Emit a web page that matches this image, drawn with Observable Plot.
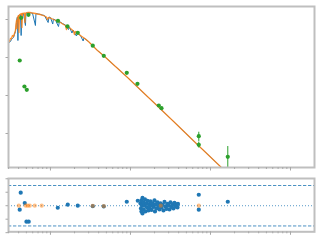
<!DOCTYPE html>
<html><head><meta charset="utf-8">
<script src="https://cdn.jsdelivr.net/npm/d3@7"></script>
<script src="https://cdn.jsdelivr.net/npm/@observablehq/plot@0.6"></script>
<style>html,body{margin:0;padding:0;background:#fff} svg{display:block}</style>
</head><body><div id="chart"></div>
<script>
// Model spectrum (orange)
const modelWave = [0.0299,0.0307,0.0316,0.0326,0.0335,0.0345,0.0355,0.0365,0.0371,0.0376,0.0381,0.0387,0.0398,0.0404,0.0410,0.0422,0.0434,0.0440,0.0447,0.0473,0.0480,0.0487,0.0516,0.0562,0.0596,0.0649,0.0688,0.0750,0.0818,0.0891,0.0917,0.0944,0.100,0.109,0.1223,0.1334,0.1454,0.154,0.1585,0.1631,0.1778,0.194,0.1995,0.2054,0.2175,0.2371,0.2738,0.2985,0.335,0.3868,0.4597,0.6494,0.8913,1.223,1.679,2.239,3.162,4.870,7.499,14.13,23.71];
const modelFlux = [0.280,0.264,0.316,0.316,0.379,0.357,0.428,0.513,0.739,0.941,0.580,1.129,1.274,0.455,1.313,1.396,1.439,0.616,1.439,1.483,0.834,1.483,1.528,1.528,1.483,1.439,1.396,1.354,1.274,1.164,1.0,1.129,1.095,1.0,0.913,0.834,0.739,0.695,0.545,0.654,0.580,0.498,0.403,0.483,0.441,0.379,0.307,0.264,0.207,0.1528,0.113,0.0580,0.0316,0.01674,0.00886,0.00498,0.00248,0.00103,0.000428,0.00012,4.15e-5];
// Observed spectrum (blue)
const obsWave = [0.0299,0.0307,0.0316,0.0326,0.0335,0.0345,0.0355,0.0365,0.0371,0.0376,0.0381,0.0387,0.0392,0.0398,0.0410,0.0422,0.0430,0.0440,0.0460,0.0487,0.0494,0.0531,0.0562,0.0596,0.0649,0.0659,0.0708,0.0794,0.0841,0.0936,0.0958,0.100,0.1068,0.1090,0.1155,0.1259,0.1296,0.1413,0.154,0.1679,0.1728,0.1857,0.1911,0.2113,0.2175,0.2371,0.2563,0.2622,0.2985,0.335,0.3868,0.4597,0.6494,0.8913,1.223,1.679,2.239,3.162,4.870,7.499,14.13,23.71];
const obsFlux = [0.2336,0.248,0.264,0.2976,0.316,0.336,0.403,0.483,0.616,0.834,1.062,1.164,0.280,1.274,1.313,1.354,0.379,1.396,1.439,0.695,1.483,1.483,1.483,1.483,0.695,1.439,1.396,1.313,1.274,0.834,1.164,1.129,0.761,1.031,0.970,0.654,0.886,0.785,0.717,0.545,0.635,0.441,0.529,0.368,0.441,0.379,0.272,0.326,0.264,0.207,0.1528,0.113,0.0580,0.0316,0.01674,0.00886,0.00498,0.00248,0.00103,0.000428,0.00012,4.15e-5];
// Photometry (green)
const photWave = [0.0413,0.0473,0.0506,0.0430,0.0531,0.1241,0.1631,0.2195,0.3378,0.4636,0.899,1.223,2.259,2.441,7.142,7.142,16.45];
const photFlux = [0.0834,0.01726,0.0141,1.108,1.33,0.924,0.662,0.447,0.2046,0.111,0.0396,0.0203,0.00546,0.00463,0.000849,0.000504,0.000244];
const photErr  = [0,0,0,0,0,0,0,0,0,0,0,0,0,0,0.00023,0.00009,0.00021];
// Residuals (blue)
const residWave = [0.0425,0.0477,0.0413,0.0501,0.0535,0.1234,0.1645,0.2195,0.3378,0.4636,0.899,1.234,
  1.334,1.353,1.372,1.372,1.392,1.413,1.413,1.454,1.454,1.496,1.518,1.540,1.585,1.608,1.631,1.679,1.703,1.728,1.778,1.804,1.830,1.884,1.939,1.995,2.024,2.054,2.113,2.175,2.239,2.304,2.371,2.441,2.512,2.585,2.661,2.738,2.818,2.901,2.985,3.073,3.162,3.255,3.350,3.447,3.548,3.652,3.758,3.868,3.924,
  7.142,7.142,16.45];
const residValue = [1.93,0.39,-0.59,-2.37,-2.37,-0.30,0.15,0,-0.06,-0.10,0.59,0.74,
  0.34,-0.40,0.79,-0.84,0.04,1.16,-1.14,0.49,-0.55,0.04,0.93,-0.84,0.34,-0.25,0.71,-0.70,0.19,-0.33,0.64,0.04,-0.62,0.34,-0.18,0.79,-0.84,0.19,-0.40,0.49,-0.03,-0.55,0.34,-0.25,0.12,-0.70,0.56,-0.10,-0.47,0.27,0.04,-0.55,0.49,-0.18,0.19,-0.40,0.41,-0.10,0.19,-0.25,0.27,
  1.63,-0.59,0.59];
// Residuals (orange)
const limWave = [0.0402,0.0491,0.0520,0.0551,0.0637,0.0778,0.3378,0.4636,2.392,7.142];
const limValue = [0,0,0,0,0,0,-0.03,-0.06,0,0];
// Ticks
const xMajorTicks = [0.1,1,10,100];
const xMinorTicks = [0.03,0.04,0.05,0.06,0.07,0.08,0.09,0.2,0.3,0.4,0.5,0.6,0.7,0.8,0.9,2,3,4,5,6,7,8,9,20,30,40,50,60,70,80,90];
const yTicksTop = [1,0.1,0.01,0.001];
const yTicksBottom = [-4,-2,0,2,4];
const sigmaLines = [-3,3];

const model = modelWave.map((w,i)=>({w, f:modelFlux[i]}));
const obs = obsWave.map((w,i)=>({w, f:obsFlux[i]}));
const phot = photWave.map((w,i)=>({w, f:photFlux[i], lo:photFlux[i]-photErr[i], hi:photFlux[i]+photErr[i], e:photErr[i]}));
const resid = residWave.map((w,i)=>({w, r:residValue[i]}));
const lim = limWave.map((w,i)=>({w, r:limValue[i]}));

const xDomain = [0.0299, 199.5];
const frameColor = "#bfbfbf";
const tickColor = "#a8a8a8";
const noText = () => "";

const sedPlot = Plot.plot({
  width: 320, height: 172,
  marginTop: 6, marginBottom: 5, marginLeft: 8, marginRight: 6,
  x: {type: "log", domain: xDomain, axis: null},
  y: {type: "log", domain: [1.274e-4, 2.2], axis: null},
  marks: [
    Plot.line(obs, {x: "w", y: "f", stroke: "#1f77b4", strokeWidth: 1, clip: true}),
    Plot.line(model, {x: "w", y: "f", stroke: "#ff7f0e", strokeWidth: 1.3, strokeOpacity: 0.85, clip: true}),
    Plot.ruleX(phot.filter(d => d.e > 0), {x: "w", y1: "lo", y2: "hi", stroke: "#2ca02c", strokeWidth: 1, clip: true}),
    Plot.dot(phot, {x: "w", y: "f", r: 2.1, fill: "#2ca02c", clip: true}),
    Plot.frame({stroke: frameColor, strokeWidth: 2}),
    Plot.axisX(xMinorTicks, {anchor: "bottom", tickSize: 2, stroke: tickColor, tickFormat: noText, label: null}),
    Plot.axisX(xMajorTicks, {anchor: "bottom", tickSize: 3.5, stroke: tickColor, tickFormat: noText, label: null}),
    Plot.axisY(yTicksTop, {anchor: "left", tickSize: 2.5, stroke: tickColor, tickFormat: noText, label: null})
  ]
});

const residPlot = Plot.plot({
  width: 320, height: 68,
  marginTop: 6, marginBottom: 8.7, marginLeft: 8, marginRight: 6,
  x: {type: "log", domain: xDomain, axis: null},
  y: {domain: [-3.87, 4.04], axis: null},
  marks: [
    Plot.ruleY(sigmaLines, {stroke: "#1f77b4", strokeWidth: 1, strokeDasharray: "3.3,1.7", strokeOpacity: 0.8}),
    Plot.ruleY([0], {stroke: "#1f77b4", strokeWidth: 1, strokeDasharray: "1,2", strokeOpacity: 0.75}),
    Plot.dot(resid, {x: "w", y: "r", r: 2.1, fill: "#1f77b4", clip: true}),
    Plot.dot(lim, {x: "w", y: "r", r: 2.1, fill: "#ff7f0e", fillOpacity: 0.5, clip: true}),
    Plot.frame({stroke: frameColor, strokeWidth: 2}),
    Plot.axisX(xMinorTicks, {anchor: "bottom", tickSize: 2, stroke: tickColor, tickFormat: noText, label: null}),
    Plot.axisX(xMajorTicks, {anchor: "bottom", tickSize: 3.5, stroke: tickColor, tickFormat: noText, label: null}),
    Plot.axisY(yTicksBottom, {anchor: "left", tickSize: 2.5, stroke: tickColor, tickFormat: noText, label: null})
  ]
});

const el = document.getElementById("chart");
el.appendChild(sedPlot);
el.appendChild(residPlot);
</script>
</body></html>
